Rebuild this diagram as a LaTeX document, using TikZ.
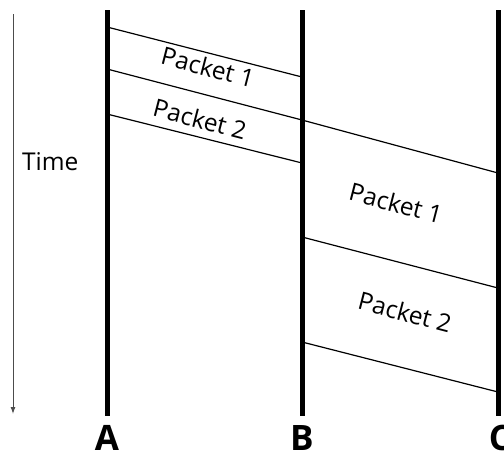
\documentclass[tikz,border=0pt]{standalone}
\usepackage{fontspec}
\setmainfont{Open Sans}
\usetikzlibrary{calc,arrows.meta}

\begin{document}
\begin{tikzpicture}[x=1pt,y=-1pt,
	lifeline/.style={line width=5pt},
	packetline/.style={line width=1.2pt},
	packetlabel/.style={font=\fontsize{24.5}{28}\selectfont, rotate=-14.5, inner sep=0pt},
	hostlabel/.style={font=\fontsize{35}{40}\selectfont\bfseries}]
	\useasboundingbox (0,0) rectangle (504,453);
	% time axis
	\coordinate (t0) at (13,14);
	\coordinate (t1) at (13,414);
	\draw[black!70, line width=1pt, -{Latex[length=7pt,width=5pt]}] (t0) -- (t1);
	\node[font=\fontsize{24.5}{28}\selectfont, anchor=west, inner sep=0pt] (time) at (22,162) {Time};
	%
	\coordinate (at) at (107,10);
	\coordinate (ab) at (107,416);
	\coordinate (bt) at (302,10);
	\coordinate (bb) at (302,416);
	\coordinate (ct) at (498,10);
	\coordinate (cb) at (498,416);
	\draw[lifeline] (at) -- (ab);
	\draw[lifeline] (bt) -- (bb);
	\draw[lifeline] (ct) -- (cb);
	\node[hostlabel] (A) at (107,438) {A};
	\node[hostlabel] (B) at (302,438) {B};
	\node[hostlabel] (C) at (500,438) {C};
	%
	\coordinate (a1) at (107,27);
	\coordinate (a2) at (107,69);
	\coordinate (a3) at (107,114);
	\coordinate (b1) at (302,77);
	\coordinate (b2) at (302,120);
	\coordinate (b3) at (302,163);
	\coordinate (b4) at (302,237);
	\coordinate (b5) at (302,342);
	\coordinate (c1) at (498,173);
	\coordinate (c2) at (498,288);
	\coordinate (c3) at (498,392);
	\draw[packetline] (a1) -- (b1);
	\draw[packetline] (a2) -- (b2) -- (c1);
	\draw[packetline] (a3) -- (b3);
	\draw[packetline] (b4) -- (c2);
	\draw[packetline] (b5) -- (c3);
	%
	\node[packetlabel] (p1ab) at (208,67) {Packet 1};
	\node[packetlabel] (p2ab) at (200,119) {Packet 2};
	\node[packetlabel] (p1bc) at (396,203) {Packet 1};
	\node[packetlabel] (p2bc) at (405,312) {Packet 2};
\end{tikzpicture}
\end{document}
